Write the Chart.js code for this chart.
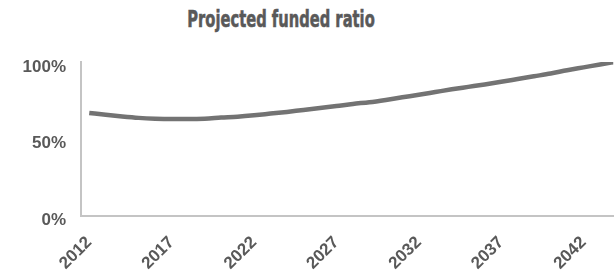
<!DOCTYPE html>
<html>
<head>
<meta charset="utf-8">
<script src="https://cdn.jsdelivr.net/npm/chart.js@4.4.1/dist/chart.umd.min.js"></script>
<style>
  html, body { margin: 0; padding: 0; background: #ffffff; }
  #wrap { position: relative; width: 615px; height: 277px; }
  #title {
    position: absolute; top: 4px; left: 0; width: 562px; text-align: center;
    font-family: 'DejaVu Sans', sans-serif;
    font-weight: bold; font-size: 23px; color: #595959; margin: 0; line-height: 30px;
    transform: scaleX(0.64); transform-origin: 281px 50%;
    -webkit-text-stroke: 0.6px #595959;
  }
  canvas { position: absolute; left: 0; top: 0; }
</style>
</head>
<body>
<div id="wrap">
  <div id="title">Projected funded ratio</div>
  <canvas id="c" width="615" height="277"></canvas>
</div>
<script>
const years = [2012,2013,2014,2015,2016,2017,2018,2019,2020,2021,2022,2023,2024,2025,2026,2027,2028,2029,2030,2031,2032,2033,2034,2035,2036,2037,2038,2039,2040,2041,2042,2043,2044];
const fundedRatio = [66.8,65.6,64.5,63.6,63.1,62.9,62.9,63.1,63.8,64.4,65.3,66.4,67.5,68.8,70.0,71.3,72.7,73.8,75.3,77.0,78.6,80.4,82.2,83.8,85.4,87.1,88.9,90.7,92.5,94.6,96.5,98.4,100.2];
const xTickYears = [2012,2017,2022,2027,2032,2037,2042];
const yTicks = [0,50,100];

const labelColor = '#595959';
const tickFont = { family: "'Liberation Sans', Arial, sans-serif", size: 17, weight: 'bold' };

new Chart(document.getElementById('c'), {
  type: 'line',
  data: {
    datasets: [{
      label: 'Projected funded ratio',
      data: years.map((y, i) => ({ x: y, y: fundedRatio[i] })),
      borderColor: '#737373',
      borderWidth: 4.5,
      pointRadius: 0,
      tension: 0.3,
      cubicInterpolationMode: 'monotone',
      fill: false
    }]
  },
  options: {
    responsive: false,
    animation: false,
    layout: { padding: { top: 62, right: 0, bottom: 0, left: 0 } },
    plugins: { legend: { display: false }, tooltip: { enabled: false }, title: { display: false } },
    scales: {
      x: {
        type: 'linear',
        min: 2011.5,
        max: 2043.8,
        afterBuildTicks: (axis) => { axis.ticks = xTickYears.map(v => ({ value: v })); },
        afterFit: (scale) => { scale.height = 61.5; },
        grid: { display: false, drawTicks: false },
        border: { display: true, color: '#c4c4c4', width: 2 },
        ticks: {
          autoSkip: false,
          minRotation: 45,
          maxRotation: 45,
          padding: 17,
          color: labelColor,
          font: tickFont,
          callback: (v) => String(v)
        }
      },
      y: {
        min: 0,
        max: 100,
        afterBuildTicks: (axis) => { axis.ticks = yTicks.map(v => ({ value: v })); },
        afterFit: (scale) => { scale.width = 81; },
        grid: { display: false, drawTicks: false },
        border: { display: true, color: '#c4c4c4', width: 2 },
        ticks: {
          padding: 15,
          labelOffset: 5,
          color: labelColor,
          font: tickFont,
          callback: (v) => v + '%'
        }
      }
    }
  }
});
</script>
</body>
</html>
